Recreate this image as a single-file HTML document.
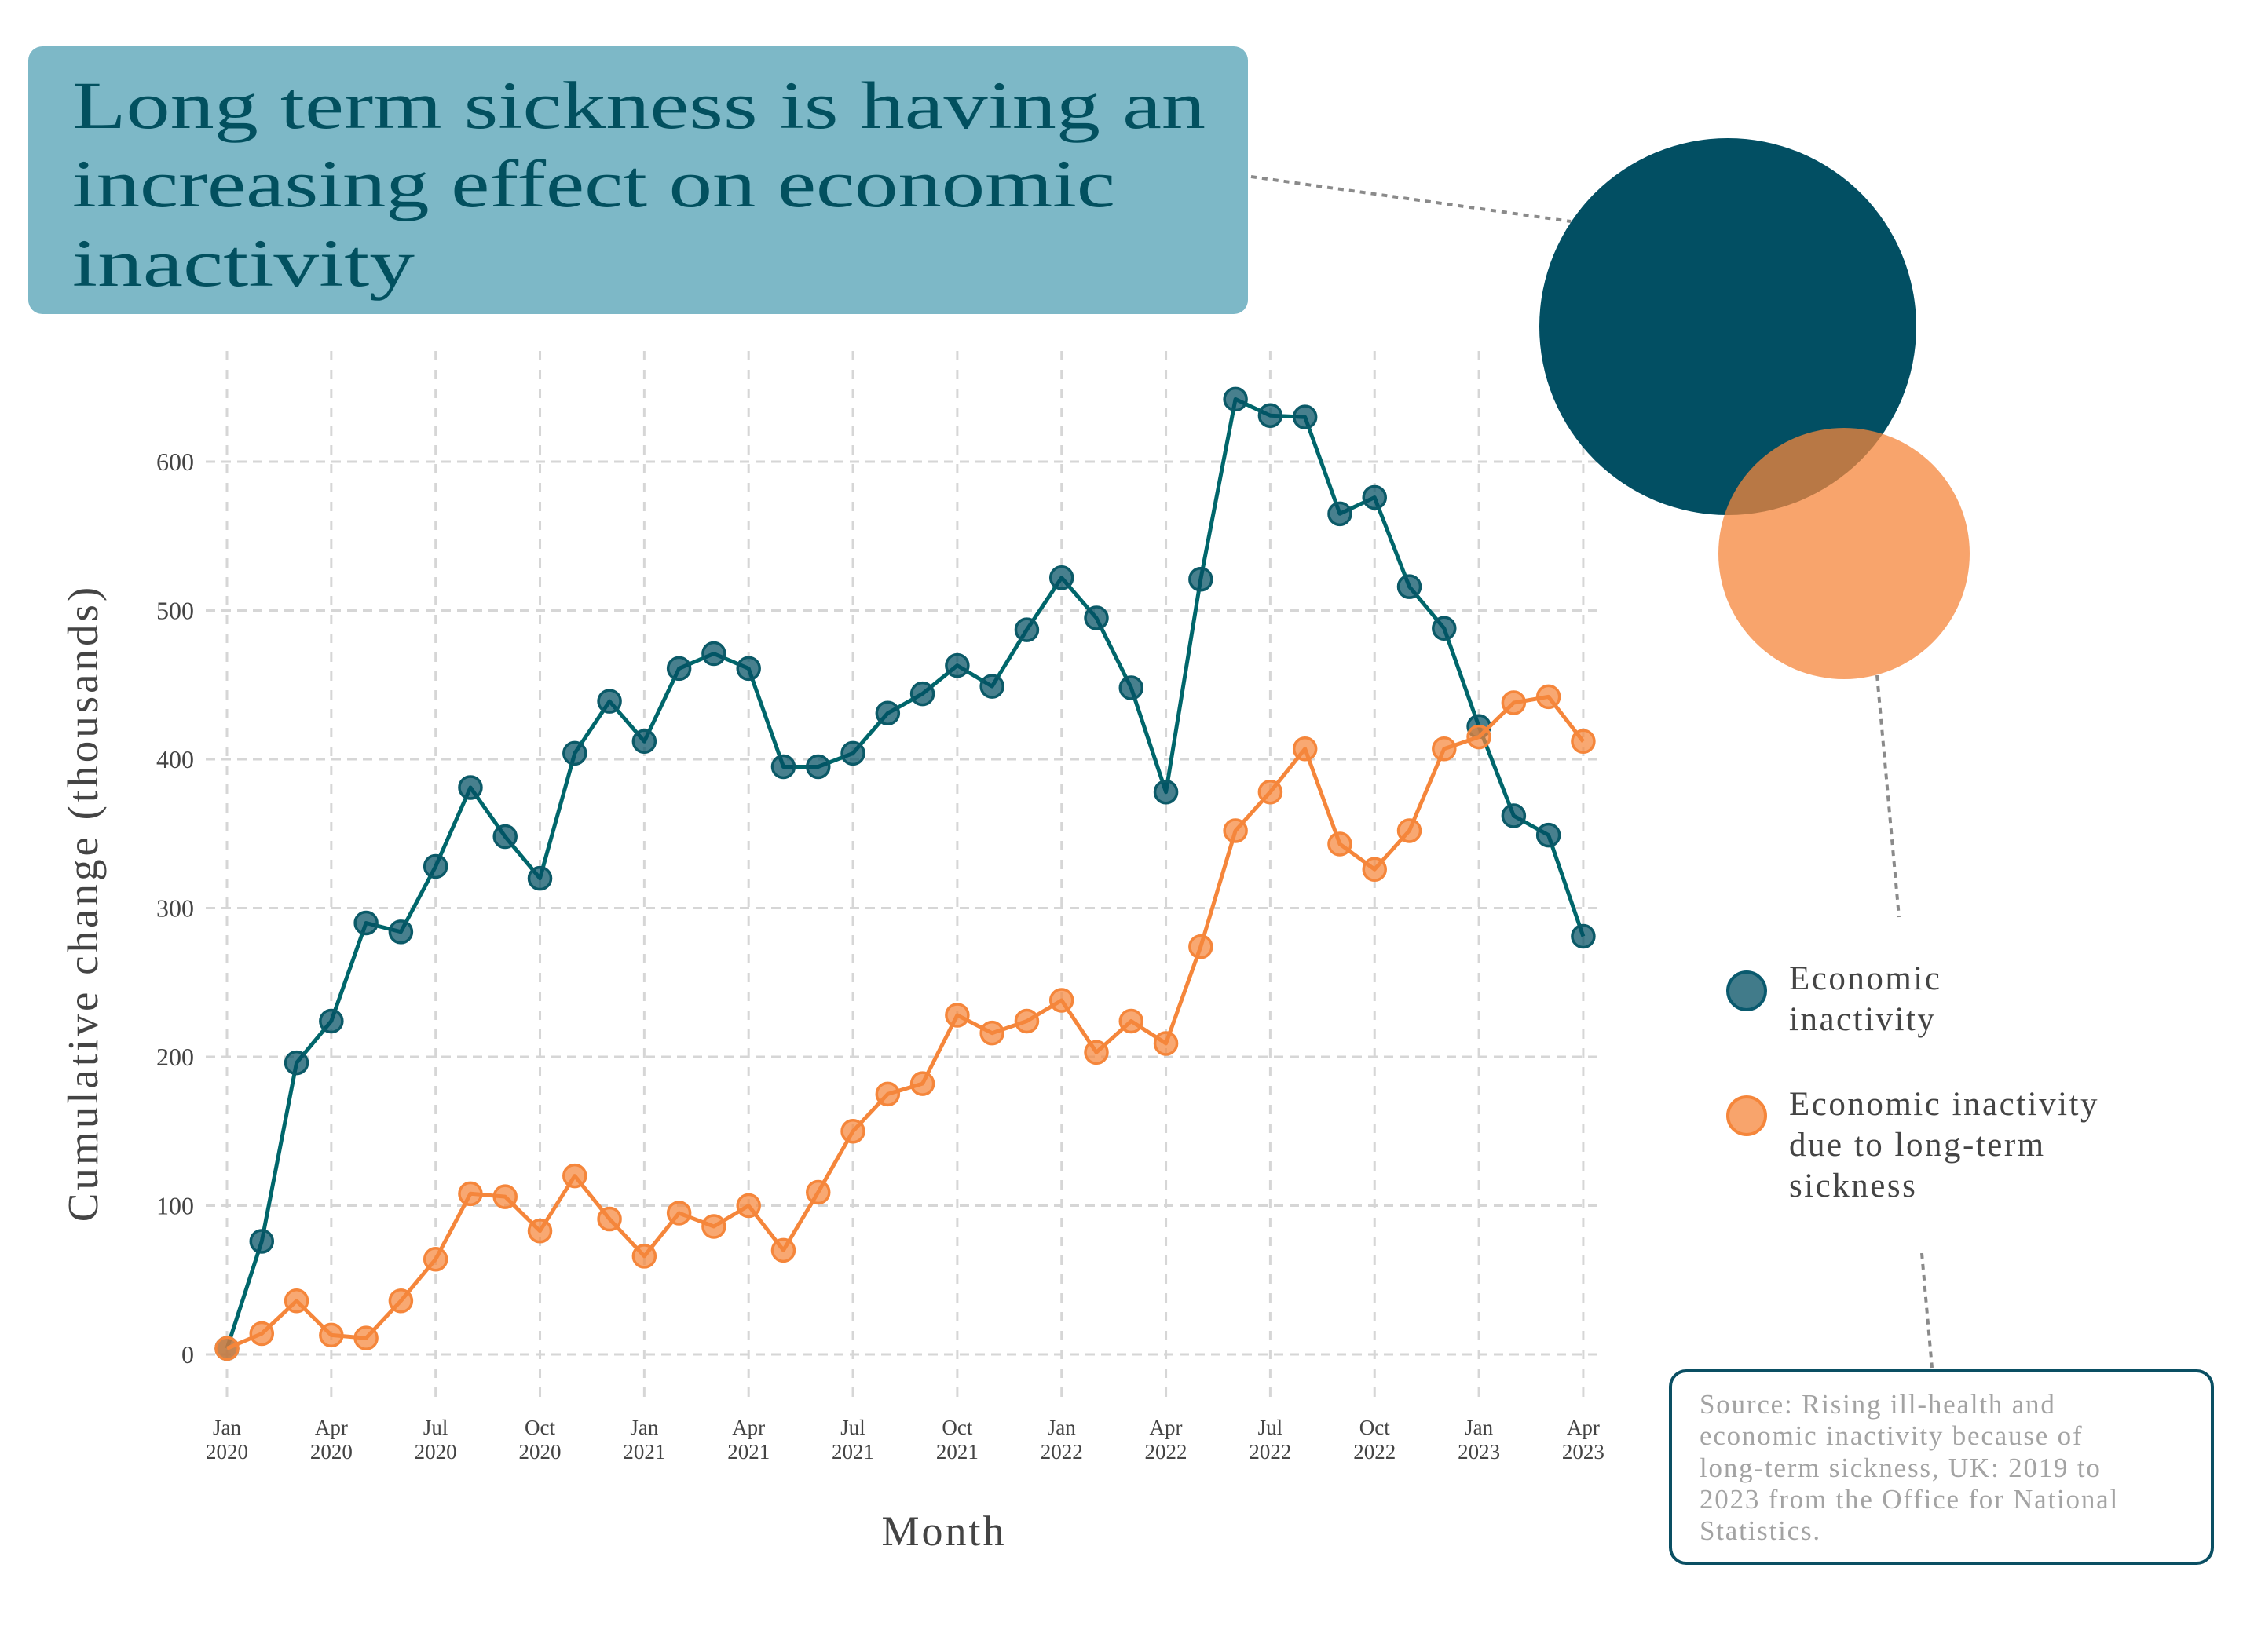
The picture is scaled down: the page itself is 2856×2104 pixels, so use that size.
<!DOCTYPE html>
<html><head><meta charset="utf-8">
<style>
html,body{margin:0;padding:0;background:#fff;}
svg{display:block;}
text{font-family:"Liberation Serif",serif;}
</style></head>
<body>
<svg id="chart" width="2856" height="2104" viewBox="0 0 2856 2104" xmlns="http://www.w3.org/2000/svg">
  <g id="grid"></g>
  <g id="axes"></g>
  <g id="series"></g>

  <line x1="1593" y1="225" x2="2000" y2="282" stroke="#8a8a8a" stroke-width="4" stroke-dasharray="7,7"/>
  <line x1="2390" y1="860" x2="2418" y2="1168" stroke="#8a8a8a" stroke-width="4" stroke-dasharray="7,7"/>
  <line x1="2447" y1="1596" x2="2460" y2="1742" stroke="#8a8a8a" stroke-width="4" stroke-dasharray="7,7"/>

  <rect x="36" y="59" width="1553" height="341" rx="18" fill="#7db8c7"/>
  <g fill="#02505f" font-size="86">
    <text x="92" y="163" textLength="1443" lengthAdjust="spacingAndGlyphs">Long term sickness is having an</text>
    <text x="92" y="263" textLength="1328" lengthAdjust="spacingAndGlyphs">increasing effect on economic</text>
    <text x="92" y="364" textLength="436" lengthAdjust="spacingAndGlyphs">inactivity</text>
  </g>

  <circle cx="2200" cy="416" r="240" fill="#024f63"/>
  <circle cx="2348" cy="705" r="160" fill="#f5863b" fill-opacity="0.75"/>

  <g>
    <g>
      <circle cx="2224" cy="1262" r="24" fill="#024f63" fill-opacity="0.75" stroke="#0a5a6e" stroke-width="4"/>
      <text x="2278" y="1260" font-size="43" fill="#444" letter-spacing="2.5">Economic</text>
      <text x="2278" y="1312" font-size="43" fill="#444" letter-spacing="2.5">inactivity</text>
    </g>
    <g>
      <circle cx="2224" cy="1421" r="24" fill="#f5863b" fill-opacity="0.75" stroke="#f5863b" stroke-width="4"/>
      <text x="2278" y="1420" font-size="43" fill="#444" letter-spacing="2.5">Economic inactivity</text>
      <text x="2278" y="1472" font-size="43" fill="#444" letter-spacing="2.5">due to long-term</text>
      <text x="2278" y="1524" font-size="43" fill="#444" letter-spacing="2.5">sickness</text>
    </g>
  </g>

  <g>
    <rect x="2127" y="1746" width="690" height="245" rx="20" fill="#fff" stroke="#0a4f63" stroke-width="4"/>
    <g fill="#a3a3a3" font-size="35" letter-spacing="1.8">
      <text x="2164" y="1800">Source: Rising ill-health and</text>
      <text x="2164" y="1840">economic inactivity because of</text>
      <text x="2164" y="1881">long-term sickness, UK: 2019 to</text>
      <text x="2164" y="1921">2023 from the Office for National</text>
      <text x="2164" y="1961">Statistics.</text>
    </g>
  </g>

  <text transform="translate(124,1150) rotate(-90)" text-anchor="middle" font-size="55" fill="#444" letter-spacing="4">Cumulative change (thousands)</text>
  <text x="1202" y="1968" text-anchor="middle" font-size="54" fill="#444" letter-spacing="3">Month</text>
</svg>
<script>
const months = ["Jan 2020","Feb 2020","Mar 2020","Apr 2020","May 2020","Jun 2020","Jul 2020","Aug 2020","Sep 2020","Oct 2020","Nov 2020","Dec 2020","Jan 2021","Feb 2021","Mar 2021","Apr 2021","May 2021","Jun 2021","Jul 2021","Aug 2021","Sep 2021","Oct 2021","Nov 2021","Dec 2021","Jan 2022","Feb 2022","Mar 2022","Apr 2022","May 2022","Jun 2022","Jul 2022","Aug 2022","Sep 2022","Oct 2022","Nov 2022","Dec 2022","Jan 2023","Feb 2023","Mar 2023","Apr 2023"];
const inactivity = [4,76,196,224,290,284,328,381,348,320,404,439,412,461,471,461,395,395,404,431,444,463,449,487,522,495,448,378,521,642,631,630,565,576,516,488,422,362,349,281];
const sickness = [4,14,36,13,11,36,64,108,106,83,120,91,66,95,86,100,70,109,150,175,182,228,216,224,238,203,224,209,274,352,378,407,343,326,352,407,415,438,442,412];
const yTicks = [0,100,200,300,400,500,600];
const xTickIdx = [0,3,6,9,12,15,18,21,24,27,30,33,36,39];
const xTickMonth = ["Jan","Apr","Jul","Oct","Jan","Apr","Jul","Oct","Jan","Apr","Jul","Oct","Jan","Apr"];
const xTickYear = ["2020","2020","2020","2020","2021","2021","2021","2021","2022","2022","2022","2022","2023","2023"];

const NS = "http://www.w3.org/2000/svg";
const X0 = 289, DX = 44.28, Y0 = 1725, DY = 1.895;
function xs(i){ return X0 + DX * i; }
function ys(v){ return Y0 - DY * v; }
function mk(tag, attrs, parent){
  const e = document.createElementNS(NS, tag);
  for (const k in attrs) e.setAttribute(k, attrs[k]);
  parent.appendChild(e);
  return e;
}
const grid = document.getElementById('grid');
const axes = document.getElementById('axes');
const series = document.getElementById('series');

yTicks.forEach(t => {
  const l = mk('line', {x1: 262, x2: 2042, y1: ys(t), y2: ys(t), stroke: '#d6d6d6', 'stroke-width': 3, 'stroke-dasharray': '12,8'}, grid);
  
  
  const tx = mk('text', {x: 247, y: ys(t) + 11, 'text-anchor': 'end', 'font-size': 32, fill: '#444'}, axes);
  tx.textContent = t;
  
  
});
xTickIdx.forEach((idx, k) => {
  const l = mk('line', {x1: xs(idx), x2: xs(idx), y1: 447, y2: 1785, stroke: '#d6d6d6', 'stroke-width': 3, 'stroke-dasharray': '12,12'}, grid);
  
  
  const t1 = mk('text', {x: xs(idx), y: 1827, 'text-anchor': 'middle', 'font-size': 27, fill: '#444'}, axes);
  t1.textContent = xTickMonth[k];
  
  
  const t2 = mk('text', {x: xs(idx), y: 1858, 'text-anchor': 'middle', 'font-size': 27, fill: '#444'}, axes);
  t2.textContent = xTickYear[k];
  
  
});

function drawSeries(vals, lineColor, fill, stroke, name){
  const g = mk('g', {}, series);
  
  
  const pts = vals.map((v, i) => xs(i).toFixed(1) + ',' + ys(v).toFixed(1)).join(' ');
  const pl = mk('polyline', {points: pts, fill: 'none', stroke: lineColor, 'stroke-width': 5, 'stroke-linejoin': 'round'}, g);
  
  
  vals.forEach((v, i) => {
    const c = mk('circle', {cx: xs(i), cy: ys(v), r: 14, fill: fill, 'fill-opacity': 0.72, stroke: stroke, 'stroke-width': 3.5}, g);
    
    
  });
}
drawSeries(inactivity, '#00666b', '#024f63', '#0b5a68', 'economic-inactivity');
drawSeries(sickness, '#f5863b', '#f5863b', '#f5863b', 'long-term-sickness');
</script>
</body></html>
